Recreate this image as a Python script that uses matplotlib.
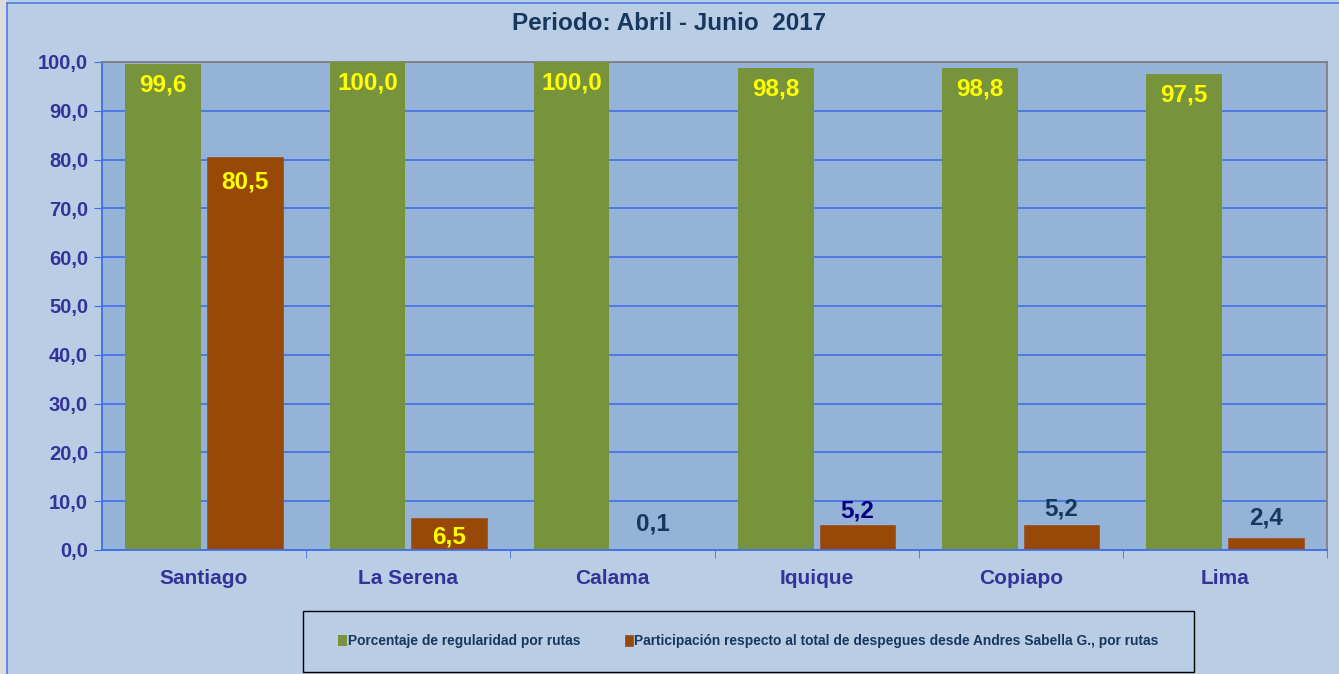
import matplotlib
matplotlib.use("Agg")
import matplotlib.pyplot as plt
from matplotlib.patches import Rectangle
import numpy as np

categories = ["Santiago", "La Serena", "Calama", "Iquique", "Copiapo", "Lima"]
regularidad = [99.6, 100.0, 100.0, 98.8, 98.8, 97.5]
participacion = [80.5, 6.5, 0.1, 5.2, 5.2, 2.4]
yticks = [0, 10, 20, 30, 40, 50, 60, 70, 80, 90, 100]

label_green = "Porcentaje de regularidad por rutas"
label_brown = "Participación respecto al total de despegues desde Andres Sabella G., por rutas"
title = "Periodo: Abril - Junio  2017"

GREEN = "#77933C"
BROWN = "#984807"
FIG_BG = "#B9CDE5"
AX_BG = "#95B3D7"
GRID = "#3F6FE8"
TICK_COL = "#333399"

plt.rcParams["font.family"] = ["Liberation Sans", "DejaVu Sans"]


def fmt(v):
    return f"{v:.1f}".replace(".", ",")


fig = plt.figure(figsize=(13.39, 6.74), dpi=100, facecolor=FIG_BG)
# outer frame
fig.patches.append(Rectangle((0, 0), 7 / 1339, 1, transform=fig.transFigure,
                             facecolor="#DCDCDC", edgecolor="none", zorder=0))
fig.add_artist(plt.Line2D([7 / 1339, 7 / 1339], [0, 1 - 3 / 674], transform=fig.transFigure,
                          color="#4A7BEA", lw=1.2))
fig.add_artist(plt.Line2D([7 / 1339, 1], [1 - 3 / 674, 1 - 3 / 674], transform=fig.transFigure,
                          color="#4A7BEA", lw=1.2))

ax = fig.add_axes([102 / 1339, 1 - 550 / 674, (1327 - 102) / 1339, (550 - 62) / 674])
ax.set_facecolor(AX_BG)

x = np.arange(len(categories))
w = 0.37
off = 0.2
b1 = ax.bar(x - off, regularidad, w, color=GREEN, zorder=3)
b2 = ax.bar(x + off, participacion, w, color=BROWN, edgecolor="#A0522D", lw=0.6, zorder=3)

ax.set_xlim(-0.5, len(categories) - 0.5)
ax.set_ylim(0, 100)
ax.set_yticks(yticks)
ax.set_yticklabels([fmt(v) for v in yticks], fontsize=14.5, fontweight="bold", color=TICK_COL)
ax.yaxis.grid(True, color=GRID, lw=1.2, zorder=1)
ax.tick_params(axis="y", length=6, color=GRID, pad=4)

ax.set_xticks(x)
ax.set_xticklabels(categories, fontsize=15, fontweight="bold", color=TICK_COL)
ax.tick_params(axis="x", length=0, pad=14)
ax.set_xticks(np.arange(0.5, len(categories) - 0.5 + 1e-9, 1), minor=True)
ax.tick_params(axis="x", which="minor", length=6, color=GRID)

ax.spines["left"].set_color(GRID)
ax.spines["bottom"].set_color(GRID)
ax.spines["bottom"].set_zorder(4)
ax.spines["top"].set_color("#808080")
ax.spines["right"].set_color("#808080")
for s in ax.spines.values():
    s.set_linewidth(1.3)

# value labels
for xi, v in zip(x, regularidad):
    ax.text(xi - off, v - 1.9, fmt(v), ha="center", va="top", fontsize=17.5,
            fontweight="bold", color="yellow", zorder=5)

# (placement, colour, gap above bar)
brown_styles = [
    ("in", "yellow", 0), ("in", "yellow", 0), ("out", "#17375E", 2.8),
    ("out", "#000080", 0.4), ("out", "#17375E", 0.8), ("out", "#17375E", 1.8),
]
for xi, v, (pos, col, gap) in zip(x, participacion, brown_styles):
    if pos == "in":
        if v > 20:
            ax.text(xi + off, v - 2.8, fmt(v), ha="center", va="top", fontsize=17.5,
                    fontweight="bold", color=col, zorder=5)
        else:
            ax.text(xi + off, v / 2 - 0.6, fmt(v), ha="center", va="center",
                    fontsize=17.5, fontweight="bold", color=col, zorder=5)
    else:
        ax.text(xi + off, v + gap, fmt(v), ha="center", va="bottom", fontsize=17.5,
                fontweight="bold", color=col, zorder=5)

fig.text(0.5, 1 - 23 / 674, title, ha="center", va="center", fontsize=17.5,
         fontweight="bold", color="#17375E")

# legend box
fig.patches.append(Rectangle((303 / 1339, 1 - 672 / 674), (1194 - 303) / 1339, 61 / 674,
                             transform=fig.transFigure, facecolor=FIG_BG,
                             edgecolor="black", lw=1.0, zorder=1))
leg = fig.legend([b1, b2], [label_green, label_brown], loc="center",
                 bbox_to_anchor=(303 / 1339, 1 - 672 / 674, (1194 - 303) / 1339, 61 / 674),
                 ncol=2, frameon=False, fontsize=9.9, handlelength=0.6, handleheight=0.9,
                 handletextpad=0.1, columnspacing=3.2)
for t in leg.get_texts():
    t.set_color("#17375E")
    t.set_fontweight("bold")

fig.savefig("out.png", dpi=100, facecolor=FIG_BG)
